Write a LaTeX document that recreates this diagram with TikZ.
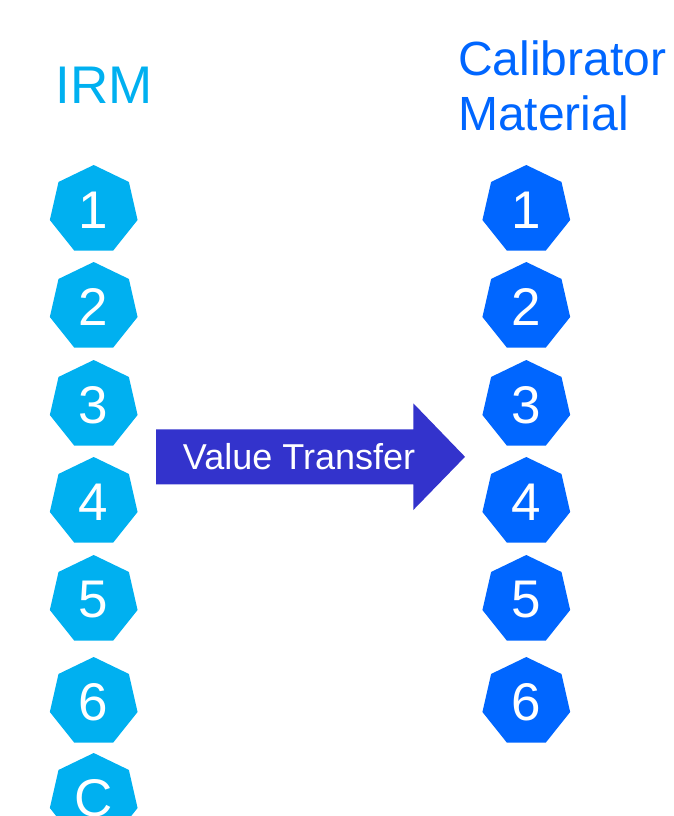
\documentclass[tikz,border=0pt]{standalone}
\usepackage{fontspec}
\setmainfont{Liberation Sans}
\usetikzlibrary{shapes.geometric}
\definecolor{irmblue}{HTML}{00B0F0}
\definecolor{calblue}{HTML}{0066FF}
\definecolor{arrowblue}{HTML}{3333CC}
\begin{document}
\begin{tikzpicture}[x=1pt,y=-1pt,
  hept/.style={regular polygon, regular polygon sides=7, minimum size=90pt,
    inner sep=0pt, text=white, font=\fontsize{53}{53}\selectfont},
  irm/.style={hept, fill=irmblue},
  cal/.style={hept, fill=calblue},
  title/.style={inner sep=0pt, font=\fontsize{48}{48}\selectfont},
  arrowtext/.style={inner sep=0pt, text=white, font=\fontsize{36}{36}\selectfont}]
\useasboundingbox (0,0) rectangle (674,816);
\clip (0,0) rectangle (674,816);
% titles
\node[title, text=irmblue, anchor=base, font=\fontsize{53}{53}\selectfont] (irmtitle) at (104.5,103.5) {IRM};
\node[title, text=calblue, anchor=base west] (caltitleA) at (458,75) {Calibrator};
\node[title, text=calblue, anchor=base west] (caltitleB) at (458,130) {Material};
% left column
\node[irm] (L1) at (93.7,210) {1};
\node[irm] (L2) at (93.7,307) {2};
\node[irm] (L3) at (93.7,405) {3};
\node[irm] (L4) at (93.7,502) {4};
\node[irm] (L5) at (93.7,600) {5};
\node[irm] (L6) at (93.7,702) {6};
\node[irm] (LC) at (93.7,798) {C};
% right column
\node[cal] (R1) at (526.3,210) {1};
\node[cal] (R2) at (526.3,307) {2};
\node[cal] (R3) at (526.3,405) {3};
\node[cal] (R4) at (526.3,502) {4};
\node[cal] (R5) at (526.3,600) {5};
\node[cal] (R6) at (526.3,702) {6};
% arrow
\fill[arrowblue] (156,429.3) -- (413.3,429.3) -- (413.3,403.3) -- (465,456.8)
  -- (413.3,510) -- (413.3,484.3) -- (156,484.3) -- cycle;
\node[arrowtext, anchor=base] (vt) at (299,469.3) {Value Transfer};
\end{tikzpicture}
\end{document}
